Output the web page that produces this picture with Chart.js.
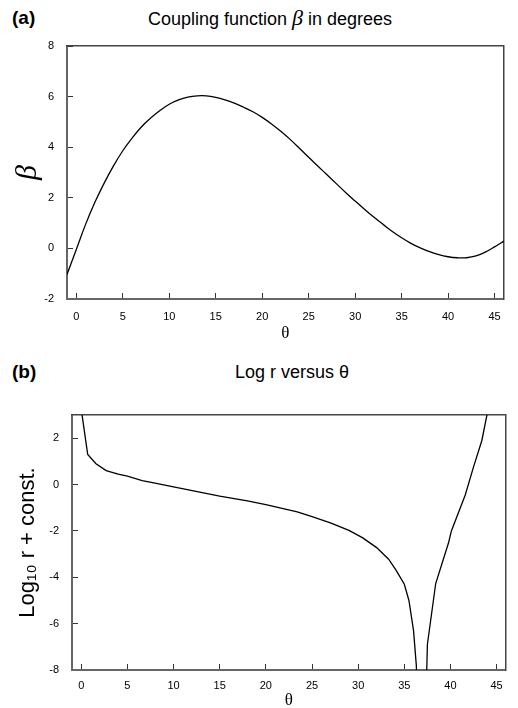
<!DOCTYPE html>
<html>
<head>
<meta charset="utf-8">
<script src="https://cdn.jsdelivr.net/npm/chart.js@4.4.0/dist/chart.umd.min.js"></script>
<style>
  body { margin: 0; background: #fff; font-family: "Liberation Sans", Arial, sans-serif; }
  #wrap { position: relative; width: 518px; height: 708px; }
  canvas { position: absolute; left: 0; }
  .tag { position: absolute; font-weight: bold; font-size: 19px; line-height: 22px; }
  .ttl { position: absolute; font-size: 18px; line-height: 22px; white-space: nowrap; transform: translateX(-50%); }
  .ttl i { font-family: "Liberation Serif", serif; font-size: 22px; }
</style>
</head>
<body>
<div id="wrap">
  <div class="tag" style="left:12px;top:7px">(a)</div>
  <div class="ttl" style="left:270px;top:7px">Coupling function <i>β</i> in degrees</div>
  <canvas id="chartA" width="518" height="345" style="top:0"></canvas>
  <div class="tag" style="left:12px;top:361px">(b)</div>
  <div class="ttl" style="left:292px;top:361px">Log r versus θ</div>
  <canvas id="chartB" width="518" height="358" style="top:350px"></canvas>
</div>
<script>
// panel (a): coupling function beta (degrees) against theta
const thetaA = [-1, 0, 1, 2, 3, 4, 5, 6, 7, 8, 9, 10, 11, 12, 13, 14, 15, 16, 17, 18, 19, 20,
  21, 22, 23, 24, 25, 26, 27, 28, 29, 30, 31, 32, 33, 34, 35, 36, 37, 38, 39, 40, 41, 42, 43, 44, 45, 46];
const betaA = [-1.03, -0.04, 0.95, 1.82, 2.58, 3.26, 3.86, 4.36, 4.8, 5.15, 5.45, 5.7, 5.87, 5.98, 6.03, 6.03,
  5.97, 5.87, 5.74, 5.58, 5.4, 5.18, 4.92, 4.63, 4.31, 3.96, 3.6, 3.25, 2.9, 2.55, 2.2, 1.87, 1.55, 1.24,
  0.95, 0.67, 0.42, 0.2, 0.02, -0.13, -0.25, -0.33, -0.37, -0.37, -0.3, -0.15, 0.06, 0.29];

// panel (b): log10 r + const. against theta
const thetaB = [0, 0.7, 1.6, 2.7, 4, 5, 6.6, 8, 10, 12.7, 15, 18, 20, 23.4, 25, 27, 29, 30.5, 32, 33.3,
  34.1, 35, 35.5, 36, 36.3, 36.5, 37.3, 37.5, 38.4, 39.8, 40.1, 41.6, 42.5, 43.4, 44.2];
const logR = [3.25, 1.3, 0.9, 0.6, 0.45, 0.36, 0.17, 0.06, -0.1, -0.32, -0.5, -0.7, -0.87, -1.18, -1.38,
  -1.65, -1.98, -2.3, -2.72, -3.22, -3.69, -4.3, -5.0, -6.3, -7.8, -10, -10, -6.9, -4.27, -2.5, -2.0,
  -0.45, 0.76, 1.9, 3.5];

const xTicks = [0, 5, 10, 15, 20, 25, 30, 35, 40, 45];
const yTicksA = [-2, 0, 2, 4, 6, 8];
const yTicksB = [-8, -6, -4, -2, 0, 2];

const sans = '"Liberation Sans", Arial, sans-serif';
const serif = '"Liberation Serif", "Times New Roman", serif';

function setTicks(list) {
  return s => { s.ticks = list.map(v => ({ value: v })); };
}

function frameAxis(position, min, max, size) {
  return {
    type: 'linear', position, min, max, display: true,
    afterFit: s => { if (s.isHorizontal()) s.height = size; else s.width = size; },
    grid: { display: true, drawOnChartArea: false, drawTicks: false },
    border: { color: '#444', width: 1.5 },
    ticks: { display: false }
  };
}

function makeChart(id, xs, ys, cfg) {
  return new Chart(document.getElementById(id), {
    type: 'line',
    data: {
      datasets: [{
        data: xs.map((x, i) => ({ x, y: ys[i] })),
        borderColor: '#000',
        borderWidth: 1.3,
        pointRadius: 0,
        fill: false,
        tension: cfg.tension,
        clip: 0
      }]
    },
    options: {
      responsive: false,
      animation: false,
      layout: { padding: { top: cfg.top, left: 0, right: 0, bottom: 0 } },
      plugins: { legend: { display: false }, tooltip: { enabled: false } },
      scales: {
        x: {
          type: 'linear', position: 'bottom', min: -1, max: 46,
          afterBuildTicks: setTicks(xTicks),
          afterFit: s => { s.height = cfg.bottom; },
          grid: { drawOnChartArea: false, tickLength: -6, color: '#333', lineWidth: 1 },
          border: { color: '#666', width: 2 },
          ticks: { padding: cfg.xPad, color: '#000', maxRotation: 0, font: { family: sans, size: 11 } },
          title: {
            display: true, text: 'θ', color: '#000',
            font: { family: serif, size: 17, lineHeight: 1 },
            padding: { top: 0, bottom: cfg.thetaPad }
          }
        },
        y: {
          type: 'linear', position: 'left', min: cfg.yMin, max: cfg.yMax,
          afterBuildTicks: setTicks(cfg.yTicks),
          afterFit: s => { s.width = cfg.left; },
          grid: { drawOnChartArea: false, tickLength: -6, color: '#333', lineWidth: 1 },
          border: { color: '#666', width: 2 },
          ticks: { padding: 19, color: '#000', font: { family: sans, size: 11 } },
          title: {
            display: true, text: cfg.yTitle, color: '#000',
            font: cfg.yFont,
            padding: { top: cfg.yTitlePad, bottom: 0 }
          }
        },
        xTop: frameAxis('top', -1, 46, 0),
        yRight: frameAxis('right', cfg.yMin, cfg.yMax, cfg.right)
      }
    }
  });
}

makeChart('chartA', thetaA, betaA, {
  tension: 0.4, top: 46, bottom: 46, left: 67, right: 4,
  yMin: -2, yMax: 8, yTicks: yTicksA, xPad: 17, thetaPad: 3,
  yTitle: 'β', yFont: { family: serif, size: 30, style: 'italic', lineHeight: 1.2 }, yTitlePad: 10
});

makeChart('chartB', thetaB, logR, {
  tension: 0, top: 65, bottom: 38, left: 72, right: 8,
  yMin: -8, yMax: 3, yTicks: yTicksB, xPad: 15, thetaPad: -1,
  yTitle: 'Log₁₀ r + const.', yFont: { family: sans, size: 22, lineHeight: 1.2 }, yTitlePad: 15
});
</script>
</body>
</html>
